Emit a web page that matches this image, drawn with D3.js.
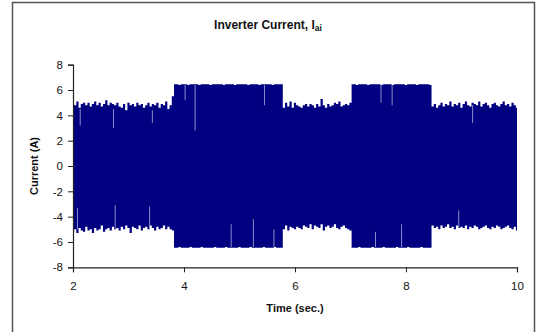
<!DOCTYPE html>
<html><head><meta charset="utf-8">
<script src="https://cdn.jsdelivr.net/npm/d3@7/dist/d3.min.js"></script>
<style>body{margin:0;background:#fff}svg{display:block;font-family:"Liberation Sans",Arial,sans-serif}</style>
</head><body><div id="chart"></div>
<script>
// sample times: 2.00 .. 10.00 every 0.04 s (201 samples)
const tStart = 2.0, tStep = 0.04;
// upper peak envelope of the current (A)
const upper = [
 4.9,4.8,5.1,4.6,4.9,5.0,4.8,5.0,4.7,4.9,5.1,4.8,5.0,4.7,4.9,5.2,4.8,5.0,4.9,4.8,5.0,4.7,4.6,4.9,4.4,5.0,4.8,4.9,4.7,5.0,4.8,4.9,4.6,4.8,5.0,4.7,4.9,4.8,5.0,4.6,4.9,4.8,5.1,4.5,4.8,5.5,
 6.45,6.45,6.4,6.45,6.45,6.45,6.4,6.45,6.45,6.45,6.45,6.4,6.45,6.45,6.45,6.45,6.4,6.45,6.45,6.45,6.45,6.45,6.4,6.45,6.45,6.45,6.45,6.4,6.45,6.45,6.45,6.45,6.45,6.4,6.45,6.45,6.45,6.45,6.4,6.45,6.45,6.45,6.45,6.45,6.4,6.45,6.45,6.45,6.45,
 4.6,5.0,4.7,5.1,4.6,5.0,4.8,4.7,4.6,4.8,4.9,4.7,4.9,4.8,4.6,4.9,4.7,5.3,4.8,4.6,4.9,4.7,4.8,5.0,4.9,5.1,4.7,4.8,4.9,4.8,5.0,
 6.45,6.45,6.4,6.45,6.45,6.45,6.45,6.4,6.45,6.45,6.45,6.45,6.45,6.4,6.45,6.45,6.45,6.45,6.4,6.45,6.45,6.45,6.45,6.45,6.4,6.45,6.45,6.45,6.45,6.4,6.45,6.45,6.45,6.45,6.45,6.4,
 4.7,4.9,4.6,4.8,5.0,4.7,4.9,4.8,5.1,4.7,4.9,4.8,5.0,4.6,4.9,5.1,4.8,4.7,5.0,4.9,4.8,5.1,4.7,4.9,5.0,4.8,4.6,4.9,5.0,4.8,4.7,4.9,5.1,4.8,4.9,4.7,5.0,4.8,4.6
];
// lower peak envelope of the current (A)
const lower = [
 -5.2,-5.0,-5.3,-4.9,-5.1,-5.2,-4.8,-5.1,-5.0,-5.3,-4.9,-5.1,-5.0,-4.7,-5.2,-5.0,-4.9,-5.1,-4.8,-5.0,-4.9,-5.1,-4.8,-5.0,-4.7,-4.9,-5.3,-4.8,-4.9,-5.0,-4.7,-5.1,-4.9,-4.8,-5.0,-4.7,-4.9,-5.1,-4.8,-5.0,-4.9,-4.7,-5.0,-4.8,-5.0,-5.1,
 -6.45,-6.45,-6.4,-6.45,-6.45,-6.45,-6.45,-6.4,-6.45,-6.45,-6.45,-6.45,-6.4,-6.45,-6.45,-6.45,-6.45,-6.45,-6.4,-6.45,-6.45,-6.45,-6.45,-6.4,-6.45,-6.45,-6.45,-6.45,-6.45,-6.4,-6.45,-6.45,-6.45,-6.45,-6.4,-6.45,-6.45,-6.45,-6.45,-6.45,-6.4,-6.45,-6.45,-6.45,-6.45,-6.4,-6.45,-6.45,-6.45,
 -5.0,-4.7,-5.1,-4.8,-4.9,-5.0,-4.8,-4.9,-5.0,-4.7,-4.8,-4.9,-4.6,-5.0,-4.7,-4.8,-4.9,-4.6,-5.1,-4.8,-4.7,-4.9,-4.8,-4.6,-4.9,-5.0,-4.8,-4.7,-4.9,-5.0,-5.1,
 -6.45,-6.45,-6.45,-6.4,-6.45,-6.45,-6.45,-6.45,-6.45,-6.4,-6.45,-6.45,-6.45,-6.45,-6.4,-6.45,-6.45,-6.45,-6.45,-6.45,-6.4,-6.45,-6.45,-6.45,-6.45,-6.4,-6.45,-6.45,-6.45,-6.45,-6.45,-6.4,-6.45,-6.45,-6.45,-6.45,
 -4.7,-4.9,-4.8,-5.0,-4.7,-4.9,-4.8,-4.6,-4.9,-4.8,-5.0,-4.7,-4.9,-4.8,-4.9,-4.7,-5.0,-4.8,-4.9,-4.7,-4.8,-5.0,-4.9,-4.8,-4.7,-4.9,-5.0,-4.8,-4.9,-4.7,-4.8,-5.0,-4.9,-4.8,-4.7,-4.9,-5.0,-4.8,-5.1
];
// light streaks inside the dense trace: [time, from, to]
const streaks = [
 [2.13,4.5,3.2],[2.73,4.5,3.0],[3.43,4.4,3.4],[2.08,-5.0,-3.3],[2.76,-5.0,-3.1],[3.38,-5.0,-3.2],
 [4.02,6.4,5.2],[4.20,6.4,2.8],[5.45,6.4,4.8],[4.85,-6.4,-4.6],[5.25,-6.4,-4.2],[5.62,-6.4,-5.0],
 [7.55,6.4,5.0],[7.75,6.4,4.8],[7.45,-6.4,-5.2],[7.92,-6.4,-4.6],[9.20,4.8,3.4],[8.95,-4.9,-3.5]
];
const xTicks = [2,4,6,8,10];
const yTicks = [-8,-6,-4,-2,0,2,4,6,8];

const W = 536, H = 332;
const svg = d3.select("#chart").append("svg").attr("width", W).attr("height", H);
svg.append("rect").attr("x",12.5).attr("y",2.5).attr("width",522).attr("height",340)
  .attr("fill","#fff").attr("stroke","#555").attr("stroke-width",1.5);

const x = d3.scaleLinear().domain([2,10]).range([73,517]);
const y = d3.scaleLinear().domain([-8,8]).range([267.3,64.7]);

const data = upper.map((u,i)=>({t: tStart + i*tStep, u, l: lower[i]}));
const area = d3.area().x(d=>x(d.t)).y0(d=>y(d.l)).y1(d=>y(d.u)).curve(d3.curveStep);
svg.append("path").datum(data).attr("d", area).attr("fill","#000080");

svg.selectAll("line.streak").data(streaks).join("line").attr("class","streak")
  .attr("x1",d=>x(d[0])).attr("x2",d=>x(d[0])).attr("y1",d=>y(d[1])).attr("y2",d=>y(d[2]))
  .attr("stroke","#8c8cc8").attr("stroke-width",1);

const fmt = d => String(d);
const xAxis = svg.append("g").attr("transform","translate(0,267.3)")
  .call(d3.axisBottom(x).tickValues(xTicks).tickSize(5).tickPadding(10).tickFormat(fmt));
const yAxis = svg.append("g").attr("transform","translate(73,0)")
  .call(d3.axisLeft(y).tickValues(yTicks).tickSize(5).tickPadding(5).tickFormat(fmt));
[xAxis,yAxis].forEach(g=>{
  g.select(".domain").attr("stroke","#222").attr("stroke-width",1.2);
  g.selectAll(".tick line").attr("stroke","#222");
  g.selectAll("text").attr("font-size","11.5px").attr("fill","#111").attr("font-family","Liberation Sans, Arial, sans-serif");
});

const title = svg.append("text").attr("x",268).attr("y",29).attr("text-anchor","middle")
  .attr("font-size","12px").attr("font-weight","bold").attr("fill","#111");
title.append("tspan").text("Inverter Current, I");
title.append("tspan").text("ai").attr("font-size","8.5px").attr("dy","2");

svg.append("text").attr("x",295).attr("y",312).attr("text-anchor","middle")
  .attr("font-size","11px").attr("font-weight","bold").attr("fill","#111").text("Time (sec.)");
svg.append("text").attr("transform","translate(38,166) rotate(-90)").attr("text-anchor","middle")
  .attr("font-size","11px").attr("font-weight","bold").attr("fill","#111").text("Current (A)");
</script></body></html>
